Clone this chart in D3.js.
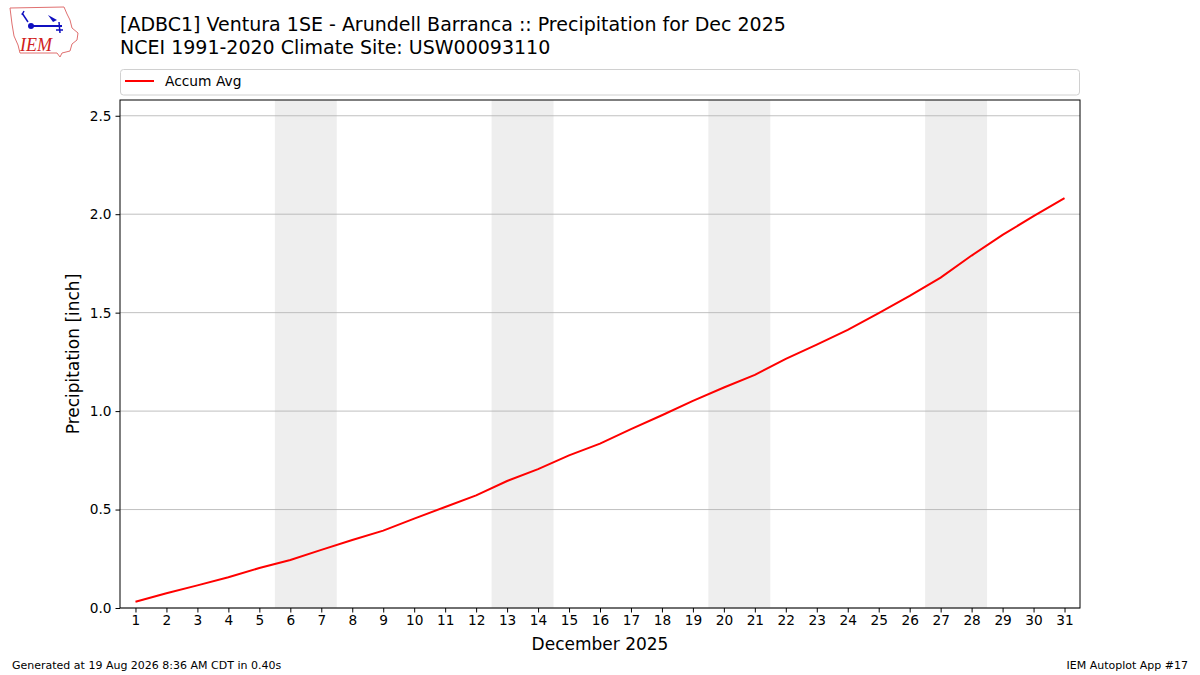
<!DOCTYPE html>
<html>
<head>
<meta charset="utf-8">
<script src="https://cdn.jsdelivr.net/npm/d3@7"></script>
<style>
  body { margin: 0; background: #fff; }
  text { font-family: "DejaVu Sans", sans-serif; }
</style>
</head>
<body>
<div id="chart"></div>
<script>
// data
const days = d3.range(1, 32);
const accumAvg = [0.032, 0.075, 0.115, 0.156, 0.203, 0.244, 0.295, 0.345, 0.393, 0.454,
                  0.513, 0.572, 0.645, 0.705, 0.775, 0.835, 0.908, 0.979, 1.052, 1.120,
                  1.184, 1.265, 1.338, 1.413, 1.497, 1.585, 1.678, 1.790, 1.895, 1.990, 2.082];
const weekends = [[6, 7], [13, 14], [20, 21], [27, 28]];
const yTicks = [0, 0.5, 1.0, 1.5, 2.0, 2.5];
const titleLines = ["[ADBC1] Ventura 1SE - Arundell Barranca :: Precipitation for Dec 2025",
                    "NCEI 1991-2020 Climate Site: USW00093110"];

const W = 1200, H = 675;
const margin = { top: 100, right: 120, bottom: 67, left: 120 };
const width = W - margin.left - margin.right;
const height = H - margin.top - margin.bottom;

const svg = d3.select("#chart").append("svg")
    .attr("width", W).attr("height", H);

const x = d3.scaleLinear().domain([0.5, 31.5]).range([0, width]);
const y = d3.scaleLinear().domain([0, 2.58]).range([height, 0]);

const g = svg.append("g").attr("transform", `translate(${margin.left},${margin.top})`);

// weekend shading
g.selectAll("rect.wk").data(weekends).join("rect")
    .attr("class", "wk")
    .attr("x", d => x(d[0] - 0.5))
    .attr("width", d => x(d[1] + 0.5) - x(d[0] - 0.5))
    .attr("y", 0).attr("height", height)
    .attr("fill", "#eeeeee");

// horizontal grid
g.selectAll("line.grid").data(yTicks).join("line")
    .attr("class", "grid")
    .attr("x1", 0).attr("x2", width)
    .attr("y1", d => y(d)).attr("y2", d => y(d))
    .attr("stroke", "#b0b0b0").attr("stroke-width", 0.8);

// accumulated line
const line = d3.line().x((d, i) => x(days[i])).y(d => y(d));
g.append("path").datum(accumAvg)
    .attr("d", line)
    .attr("fill", "none")
    .attr("stroke", "red")
    .attr("stroke-width", 2);

// axes
const xAxis = g.append("g").attr("transform", `translate(0,${height})`)
    .call(d3.axisBottom(x).tickValues(days).tickFormat(d3.format("d")).tickSize(4.5).tickPadding(3));
const yAxis = g.append("g")
    .call(d3.axisLeft(y).tickValues(yTicks).tickFormat(d3.format(".1f")).tickSize(4.5).tickPadding(4));
[xAxis, yAxis].forEach(a => {
    a.select(".domain").remove();
    a.selectAll("text").attr("font-size", 13.7).attr("fill", "#000")
        .style("font-family", "DejaVu Sans");
    a.selectAll("line").attr("stroke", "#000").attr("stroke-width", 1);
});

// frame
g.append("rect").attr("width", width).attr("height", height)
    .attr("fill", "none").attr("stroke", "#000").attr("stroke-width", 1);

// axis labels
svg.append("text")
    .attr("x", margin.left + width / 2).attr("y", 650)
    .attr("text-anchor", "middle").attr("font-size", 17)
    .text("December 2025");
svg.append("text")
    .attr("transform", `translate(79,${margin.top + height / 2}) rotate(-90)`)
    .attr("text-anchor", "middle").attr("font-size", 17)
    .text("Precipitation [inch]");

// title
svg.selectAll("text.title").data(titleLines).join("text")
    .attr("class", "title")
    .attr("x", 120).attr("y", (d, i) => 31 + i * 23)
    .attr("font-size", 19)
    .text(d => d);

// legend
svg.append("rect")
    .attr("x", 120.5).attr("y", 69.5).attr("width", 959).attr("height", 25.5)
    .attr("rx", 3).attr("fill", "#fff").attr("stroke", "#d0d0d0");
svg.append("line")
    .attr("x1", 125).attr("x2", 154).attr("y1", 81).attr("y2", 81)
    .attr("stroke", "red").attr("stroke-width", 2);
svg.append("text")
    .attr("x", 165).attr("y", 86).attr("font-size", 13.8)
    .text("Accum Avg");

// footer
svg.append("text")
    .attr("x", 12).attr("y", 669).attr("font-size", 11)
    .text("Generated at 19 Aug 2026 8:36 AM CDT in 0.40s");
svg.append("text")
    .attr("x", 1188).attr("y", 669).attr("font-size", 11).attr("text-anchor", "end")
    .text("IEM Autoplot App #17");

// rough IEM logo
const logo = svg.append("g");
logo.append("path")
    .attr("d", "M10,8 L64,7 L67,14 L70,20 L72,28 L78,33 L77,40 L72,44 L70,51 L62,53 L60,57 L57,53 L20,53 L18,45 L14,36 L12,24 Z")
    .attr("fill", "none").attr("stroke", "#e07070").attr("stroke-width", 1);
logo.append("line").attr("x1", 30).attr("x2", 62).attr("y1", 26).attr("y2", 26)
    .attr("stroke", "#1010c0").attr("stroke-width", 2);
logo.append("circle").attr("cx", 31).attr("cy", 26).attr("r", 3).attr("fill", "#1010c0");
logo.append("path").attr("d", "M22,13 L28,22 M24,11 L22,15").attr("stroke", "#1010c0")
    .attr("stroke-width", 1.5).attr("fill", "none");
logo.append("path").attr("d", "M48,15 L57,20 L53,22 Z").attr("fill", "#1010c0");
logo.append("path").attr("d", "M59,22 L60,33 M56,30 L63,30").attr("stroke", "#1010c0")
    .attr("stroke-width", 1.5).attr("fill", "none");
logo.append("text").attr("x", 20).attr("y", 51)
    .attr("font-family", "Liberation Serif").attr("font-style", "italic")
    .attr("font-size", 18).attr("fill", "#d02020")
    .style("font-family", "Liberation Serif")
    .text("IEM");
</script>
</body>
</html>
